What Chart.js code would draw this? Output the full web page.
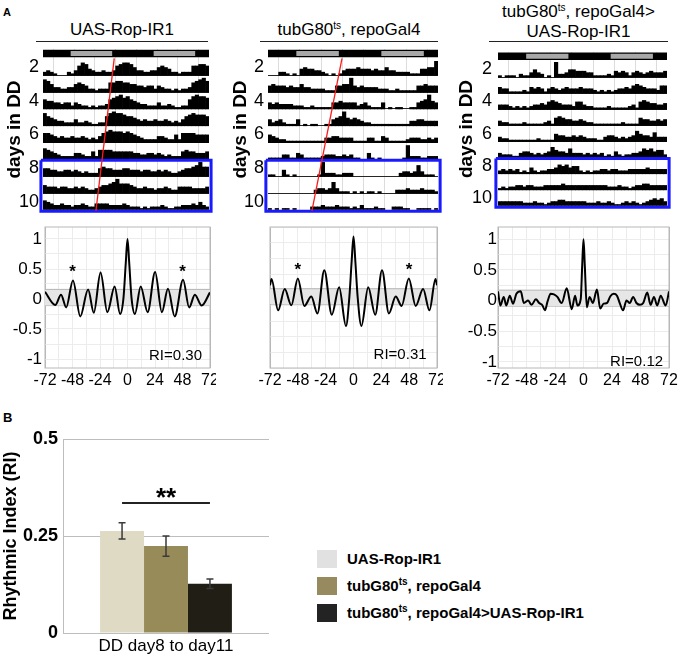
<!DOCTYPE html>
<html>
<head>
<meta charset="utf-8">
<script src="https://cdn.jsdelivr.net/npm/chart.js@4.4.1/dist/chart.umd.min.js"></script>
<style>
  body { margin: 0; background: #fff; }
  #fig { position: relative; width: 680px; height: 658px; overflow: hidden;
         font-family: 'Liberation Sans', Arial, sans-serif; color: #000; }
  #fig canvas { position: absolute; }
  .lab { position: absolute; font-weight: bold; }
  .ttl { position: absolute; text-align: center; font-size: 17px; line-height: 20px;
         border-bottom: 1.5px solid #222; }
  .ttl sup, #legend sup { font-size: 10px; vertical-align: 6px; line-height: 0; }
  #legend { position: absolute; left: 317px; top: 550px; font-size: 15px; font-weight: bold; }
  #legend div { height: 18px; line-height: 18px; margin-bottom: 9px; white-space: nowrap; }
  #legend span { display: inline-block; width: 20px; height: 18px; vertical-align: top; margin-right: 10px; }
</style>
</head>
<body>
<div id="fig">
  <div class="lab" style="left:3px;top:6px;font-size:11px">A</div>
  <div class="ttl" style="left:36px;top:20px;width:172px;height:21px">UAS-Rop-IR1</div>
  <div class="ttl" style="left:260px;top:20px;width:178px;height:21px">tubG80<sup>ts</sup>, repoGal4</div>
  <div class="ttl" style="left:489px;top:2px;width:179px;height:39px">tubG80<sup>ts</sup>, repoGal4&gt;<br>UAS-Rop-IR1</div>

  <canvas id="act1" width="215" height="170" style="left:0;top:44px"></canvas>
  <canvas id="act2" width="219" height="170" style="left:225px;top:44px"></canvas>
  <canvas id="act3" width="223" height="163" style="left:450px;top:47px"></canvas>

  <canvas id="acf1" width="216" height="174" style="left:0;top:218px"></canvas>
  <canvas id="acf2" width="218" height="174" style="left:225px;top:218px"></canvas>
  <canvas id="acf3" width="230" height="174" style="left:450px;top:218px"></canvas>

  <div class="lab" style="left:3px;top:410px;font-size:13px">B</div>
  <canvas id="riBars" width="285" height="233" style="left:0;top:425px"></canvas>
  <div id="legend"></div>
</div>

<script>
const FONT = "'Liberation Sans', Arial, sans-serif";
Chart.defaults.font.family = FONT;
Chart.defaults.color = '#000';

// ---- actograms: hourly activity, one array per day (day 2 .. day 11) ----
const firstDay = 2;
const ldEdges = [0, 8, 20, 32, 44, 48];      // subjective night / day edges over 48 h
const ldShade = ['D', 'L', 'D', 'L', 'D'];

const daysUAS = [
  [2,3,2,1,0,0,0,2,1,3,6,8,7,4,3,2,2,3,2,2,3,6,7,8],
  [8,7,5,3,3,2,2,3,3,5,6,5,4,2,2,1,2,2,2,6,6,7,7,6],
  [6,5,5,4,4,3,4,4,2,4,3,2,2,1,2,1,2,2,3,6,7,8,9,7],
  [8,6,5,4,3,3,2,2,2,4,2,2,3,2,1,1,2,2,6,8,9,8,8,7],
  [6,6,5,4,3,4,3,3,4,3,3,4,3,2,3,2,4,6,7,8,7,7,7,6],
  [7,6,5,4,3,2,2,2,2,4,4,3,2,2,5,2,6,6,6,6,5,5,5,5],
  [5,5,4,4,3,3,4,4,3,4,3,2,3,2,2,2,5,6,5,5,4,4,4,5],
  [5,4,4,4,3,4,4,3,3,4,3,4,3,2,2,3,4,5,5,6,7,9,6,6],
  [6,5,4,3,3,4,3,3,2,3,3,4,3,2,2,4,4,4,4,3,3,3,3,4],
  [3,2,2,2,1,2,1,2,2,2,3,2,1,1,2,2,3,3,3,4,3,5,3,2]
];
const daysRepo = [
  [0,0,0,2,2,1,0,1,0,4,5,4,4,3,3,2,1,0,1,0,1,3,4,4],
  [4,5,4,4,4,3,4,3,3,5,3,3,2,2,2,2,1,1,1,4,4,5,5,9],
  [4,3,4,3,3,3,3,2,2,2,1,1,2,1,1,1,1,1,4,4,5,4,4,4],
  [4,2,3,4,2,1,1,1,4,0,1,0,1,1,0,0,1,1,4,5,6,9,5,4],
  [5,4,3,2,2,1,1,1,1,1,1,1,1,1,1,1,3,3,4,4,3,3,3,3],
  [1,1,1,1,3,3,1,1,4,3,1,1,1,1,1,2,3,3,3,2,2,3,2,3],
  [1,1,0,0,4,1,0,1,0,0,0,0,0,0,1,9,2,2,2,1,1,2,2,2],
  [0,0,0,0,0,0,0,0,0,0,0,0,0,2,3,3,2,3,7,3,1,1,1,0],
  [1,0,1,0,1,1,0,1,0,0,0,0,2,2,2,3,2,2,2,3,2,2,2,1],
  [2,1,3,1,1,1,2,1,1,0,0,2,2,2,1,1,0,0,1,1,1,1,0,1]
];
const daysKD = [
  [1,0,1,1,1,0,2,1,1,3,5,3,2,0,1,0,10,2,2,3,5,5,4,4],
  [4,3,3,1,1,1,1,2,1,4,3,4,3,1,3,4,3,2,3,4,3,3,3,4],
  [3,3,3,2,1,2,1,2,1,2,3,3,4,3,5,6,5,4,3,3,3,2,5,5],
  [3,2,2,1,1,1,1,2,1,1,1,1,1,2,3,1,5,6,5,4,4,3,3,4],
  [3,2,2,1,1,1,1,1,1,1,1,2,1,1,1,1,5,4,4,3,3,4,3,4],
  [3,2,2,2,1,1,3,4,4,3,2,3,2,3,4,7,5,4,4,3,6,3,3,3],
  [2,3,2,3,2,3,1,2,1,4,2,1,2,2,3,3,4,6,5,6,4,5,5,2],
  [1,2,1,2,2,3,3,2,3,3,2,2,2,3,3,3,3,3,4,3,3,3,3,3],
  [3,3,3,3,3,3,3,2,2,2,3,2,2,1,2,3,3,4,4,3,3,3,3,3],
  [3,2,2,2,3,2,2,3,2,1,1,2,3,2,3,2,1,2,3,4,5,4,5,3]
];
const onsetUAS = [20.6, 15.3];    // red onset line: hour at first row top, last row bottom
const onsetRepo = [20.9, 12.4];
const boxDays = [8, 10];          // highlighted days

// ---- autocorrelation (lag in h) ----
const lagsUAS = [-72,-63,-58,-53.5,-47.6,-41.2,-34.4,-29.4,-23.5,-17.6,-11.2,-6.5,-3.5,-1.5,0,1.5,3.5,6.5,11.5,17.6,24.1,30,35.3,41.2,48.5,53.8,58.8,64.7,72];
const acfUAS  = [0.12,-0.10,0.07,-0.14,0.31,-0.29,0.16,-0.23,0.44,-0.22,0.21,-0.25,0.02,0.6,1.0,0.6,0.02,-0.25,0.21,-0.22,0.45,-0.22,0.17,-0.29,0.32,-0.14,0.07,-0.11,0.11];
const lagsRepo = [-72,-70.7,-65,-59.3,-53.6,-48,-42.4,-36.4,-31.1,-25.2,-18.7,-12.4,-6.5,-3.5,-1.6,0,1.6,3.5,6.8,12.7,18.7,24.6,30.5,36.4,41.5,47.7,53.6,60,65.5,70.7,72];
const acfRepo  = [0.22,0.32,-0.18,0.16,-0.10,0.33,-0.11,0.04,-0.23,0.46,-0.25,0.19,-0.43,0.05,0.6,1.0,0.6,0.05,-0.43,0.19,-0.25,0.46,-0.23,0.04,-0.11,0.33,-0.11,0.16,-0.18,0.32,0.22];
const lagsKD = [-72,-70,-67.2,-65,-62.1,-59.3,-56.5,-52.8,-50.3,-46.6,-43.8,-40.1,-37.3,-34.5,-32.5,-30.2,-27.7,-24.9,-22,-18.4,-14.1,-9.9,-7.1,-5.1,-2.3,-1.1,0,1.1,2.8,5.1,7.9,11.3,14.1,16.9,19.8,22.6,25.4,28.2,30.5,33.3,36.2,39,41.8,44.6,47.5,50.3,53.7,56.5,59.3,62.1,65,69.2,72];
const acfKD  = [0.15,-0.08,0.06,-0.08,0.08,-0.05,0.11,0.15,-0.04,0.0,-0.07,0.02,-0.04,-0.08,-0.16,-0.01,0.11,0.10,0.06,-0.04,0.20,-0.14,0.08,-0.08,0.03,0.57,1.0,0.57,-0.11,0.06,-0.04,0.18,-0.13,-0.05,-0.04,0.07,0.11,0.08,-0.04,-0.16,0.0,-0.04,0.06,-0.04,-0.07,-0.04,0.13,-0.07,0.06,-0.08,0.08,-0.08,0.15];
const bandUAS = [-0.11, 0.16];    // shaded confidence band
const bandRepo = [-0.08, 0.165];
const bandKD = [-0.09, 0.17];
const riText = ['RI=0.30', 'RI=0.31', 'RI=0.12'];
const starLags = [-48, 48];

// ---- panel B ----
const groups = ['UAS-Rop-IR1', 'tubG80ts, repoGal4', 'tubG80ts, repoGal4>UAS-Rop-IR1'];
const periodLabel = ['DD day8 to day11'];
const riMean = [0.263, 0.224, 0.127];
const riSem  = [0.021, 0.026, 0.012];
const sigPair = [0, 2];
const sigLevel = 0.335;
const sigMark = '**';

const barColors = ['#dedac4', '#978b59', '#211f15'];
const legendColors = ['#e1e1e1', '#978a5e', '#232323'];

// keep the chart area where the layout padding puts it
const noPad = s => { s.paddingTop = 0; s.paddingBottom = 0; s.paddingLeft = 0; s.paddingRight = 0; };

// --------------------------------------------------------------
function actogram(id, days, onset, o) {
  const rows = days.length - 1;
  const sets = [];
  for (let r = 0; r < rows; r++) {
    const vals = days[r].concat(days[r + 1]);
    const base = rows - 1 - r;
    sets.push({
      type: 'bar', order: 4, grouped: false,
      backgroundColor: '#000', borderWidth: 0,
      barPercentage: 1, categoryPercentage: 1,
      data: vals.map((v, h) => ({ x: h + 0.5, y: [base, base + v * 0.092] })).filter(p => p.y[1] > p.y[0])
    });
  }
  // LD bar above the rows
  const ldY = rows + 0.3;
  sets.push({ type: 'line', order: 2, data: [{ x: ldEdges[0], y: ldY }, { x: ldEdges[ldEdges.length - 1], y: ldY }],
    borderColor: '#000', borderWidth: 7.5, borderCapStyle: 'butt', pointRadius: 0, clip: false });
  ldShade.forEach((s, i) => {
    if (s !== 'L') return;
    sets.push({ type: 'line', order: 1, data: [{ x: ldEdges[i], y: ldY }, { x: ldEdges[i + 1], y: ldY }],
      borderColor: '#a8a8a8', borderWidth: 5, borderCapStyle: 'butt', pointRadius: 0, clip: false });
  });
  if (onset) {
    sets.push({ type: 'line', order: 0, data: [{ x: onset[0], y: rows }, { x: onset[1], y: -0.05 }],
      borderColor: '#ff1a1a', borderWidth: 1.3, pointRadius: 0, clip: false });
  }
  const top = rows - (boxDays[0] - firstDay) - 0.05;
  const bot = rows - 1 - (boxDays[1] - firstDay) - 0.08;
  sets.push({ type: 'line', order: 0,
    data: [{ x: -0.6, y: top }, { x: 48.6, y: top }, { x: 48.6, y: bot }, { x: -0.6, y: bot }, { x: -0.6, y: top }],
    borderColor: '#1a1aff', borderWidth: 3, borderJoinStyle: 'miter', pointRadius: 0, clip: false });

  new Chart(document.getElementById(id), {
    type: 'bar',
    data: { datasets: sets },
    options: {
      responsive: false, animation: false,
      layout: { padding: { top: 5, right: 6, bottom: 4, left: 0 } },
      plugins: { legend: { display: false }, tooltip: { enabled: false } },
      scales: {
        x: { type: 'linear', min: 0, max: 48, offset: false,
             afterFit: s => { s.height = 0; noPad(s); },
             ticks: { display: false, stepSize: 6 },
             grid: { color: '#dcdcdc', drawTicks: false }, border: { display: false } },
        y: { min: 0, max: rows + 0.56,
             afterFit: s => { s.width = o.axisW; noPad(s); },
             ticks: { stepSize: 1, includeBounds: false, autoSkip: false, padding: o.tickPad, labelOffset: o.labelOffset,
                      font: { size: 18 }, color: '#000',
                      callback: v => {
                        if (!Number.isInteger(v) || v >= rows) return '';
                        const day = firstDay + rows - 1 - v;
                        return day % 2 === 0 ? String(day) : '';
                      } },
             grid: { drawTicks: false, lineWidth: 1,
                     color: c => (c.tick && Number.isInteger(c.tick.value) && c.tick.value < rows) ? '#262626' : 'rgba(0,0,0,0)' },
             border: { display: false },
             title: { display: true, text: 'days in DD', font: { size: 19, weight: 'bold' }, color: '#000',
                      padding: { top: o.titlePad, bottom: 0 } } }
      }
    }
  });
}

const frame = { id: 'frame', beforeDatasetsDraw(chart) {
  const { ctx, chartArea: a } = chart;
  ctx.save(); ctx.strokeStyle = '#b8b8b8'; ctx.lineWidth = 1;
  ctx.strokeRect(a.left, a.top, a.right - a.left, a.bottom - a.top);
  ctx.restore();
} };

function notes(items) {
  return { id: 'notes', afterDatasetsDraw(chart) {
    const { ctx, scales: { x, y } } = chart;
    ctx.save(); ctx.fillStyle = '#000'; ctx.textBaseline = 'middle';
    items.forEach(n => {
      ctx.font = n.font; ctx.textAlign = n.align || 'center';
      ctx.fillText(n.text, x.getPixelForValue(n.x), y.getPixelForValue(n.y));
    });
    ctx.restore();
  } };
}

function correlogram(id, lags, acf, band, ri, o) {
  const peakNear = lag => Math.max(...acf.filter((v, i) => Math.abs(lags[i] - lag) <= 3));
  const items = [{ text: ri, x: o.riX, y: o.riY, align: 'right', font: '15px ' + FONT }];
  if (o.stars) starLags.forEach(l => items.push({ text: '*', x: l, y: peakNear(l) + 0.13, font: 'bold 17px ' + FONT }));
  const edge = '#b8b8b8', light = '#ececec';
  new Chart(document.getElementById(id), {
    type: 'line',
    data: { datasets: [
      { data: lags.map((x, i) => ({ x, y: acf[i] })), borderColor: '#000', borderWidth: 2, pointRadius: 0,
        cubicInterpolationMode: 'monotone', order: 0 },
      { data: [{ x: -72, y: band[1] }, { x: 72, y: band[1] }], borderColor: '#b4b4b4', borderWidth: 1, pointRadius: 0,
        fill: '+1', backgroundColor: '#e6e6e6', order: 2 },
      { data: [{ x: -72, y: band[0] }, { x: 72, y: band[0] }], borderColor: '#a8a8a8', borderWidth: 1, pointRadius: 0,
        fill: false, order: 2 }
    ] },
    plugins: [frame, notes(items)],
    options: {
      responsive: false, animation: false,
      layout: { padding: { top: 9, right: o.padRight, bottom: 0, left: 0 } },
      plugins: { legend: { display: false }, tooltip: { enabled: false } },
      scales: {
        x: { type: 'linear', min: -72, max: 72,
             afterFit: s => { s.height = 24; noPad(s); },
             ticks: { stepSize: 12, autoSkip: false, maxRotation: 0, padding: 3, font: { size: 16 }, color: '#000',
                      callback: v => v % 24 === 0 ? String(v) : '' },
             grid: { drawTicks: false, color: c => (c.tick && Math.abs(c.tick.value) === 72) ? edge : light },
             border: { display: false } },
        y: { min: o.yMin, max: o.yMax,
             afterFit: s => { s.width = o.axisW; noPad(s); },
             ticks: { stepSize: 0.25, includeBounds: false, autoSkip: false, padding: o.tickPad,
                      font: { size: 17 }, color: '#000',
                      callback: v => Math.abs(v * 2 - Math.round(v * 2)) < 1e-6 ? String(v) : '' },
             grid: { drawTicks: false, color: light },
             border: { display: false } }
      }
    }
  });
}

actogram('act1', daysUAS, onsetUAS, { axisW: 43, tickPad: 4, labelOffset: -8.4, titlePad: 3 });
actogram('act2', daysRepo, onsetRepo, { axisW: 43, tickPad: 4, labelOffset: -8.4, titlePad: 4 });
actogram('act3', daysKD, null, { axisW: 48, tickPad: 6, labelOffset: -8, titlePad: 5 });

correlogram('acf1', lagsUAS, acfUAS, bandUAS, riText[0], { yMin: -1.15, yMax: 1.2, axisW: 45, tickPad: 3, padRight: 6, riX: 65, riY: -0.94, stars: true });
correlogram('acf2', lagsRepo, acfRepo, bandRepo, riText[1], { yMin: -1.1, yMax: 1.15, axisW: 45, tickPad: 3, padRight: 6, riX: 63, riY: -0.89, stars: true });
correlogram('acf3', lagsKD, acfKD, bandKD, riText[2], { yMin: -1.1, yMax: 1.2, axisW: 48, tickPad: 1, padRight: 11, riX: 67, riY: -1.0, stars: false });

// ---- panel B ----
const errorBars = { id: 'errorBars', afterDatasetsDraw(chart) {
  const { ctx, scales: { y } } = chart;
  ctx.save();
  ctx.strokeStyle = '#3a3a3a'; ctx.lineWidth = 1.5;
  riMean.forEach((m, i) => {
    const bar = chart.getDatasetMeta(i).data[0];
    const t = y.getPixelForValue(m + riSem[i]), b = y.getPixelForValue(m - riSem[i]);
    ctx.beginPath();
    ctx.moveTo(bar.x, t); ctx.lineTo(bar.x, b);
    ctx.moveTo(bar.x - 3.5, t); ctx.lineTo(bar.x + 3.5, t);
    ctx.moveTo(bar.x - 3.5, b); ctx.lineTo(bar.x + 3.5, b);
    ctx.stroke();
  });
  const a = chart.getDatasetMeta(sigPair[0]).data[0], c = chart.getDatasetMeta(sigPair[1]).data[0];
  const ys = y.getPixelForValue(sigLevel);
  ctx.strokeStyle = '#222'; ctx.lineWidth = 2;
  ctx.beginPath(); ctx.moveTo(a.x, ys); ctx.lineTo(c.x, ys); ctx.stroke();
  ctx.fillStyle = '#000'; ctx.font = 'bold 26px ' + FONT;
  ctx.textAlign = 'center'; ctx.textBaseline = 'alphabetic';
  ctx.fillText(sigMark, (a.x + c.x) / 2, ys + 3);
  ctx.restore();
} };

new Chart(document.getElementById('riBars'), {
  type: 'bar',
  data: {
    labels: periodLabel,
    datasets: groups.map((g, i) => ({ label: g, data: [riMean[i]], backgroundColor: barColors[i], borderWidth: 0,
                                     barPercentage: 1, categoryPercentage: 0.64 }))
  },
  plugins: [errorBars],
  options: {
    responsive: false, animation: false,
    layout: { padding: { top: 14, right: 16, bottom: 0, left: 0 } },
    plugins: { legend: { display: false }, tooltip: { enabled: false } },
    scales: {
      x: { afterFit: s => { s.height = 25; noPad(s); },
           ticks: { padding: 3, font: { size: 17 }, color: '#000' },
           grid: { display: false, drawTicks: false }, border: { display: false } },
      y: { min: 0, max: 0.5,
           afterFit: s => { s.width = 63; noPad(s); },
           ticks: { stepSize: 0.25, padding: 5, font: { size: 18, weight: 'bold' }, color: '#000',
                    callback: v => String(v) },
           grid: { drawTicks: false, color: '#bdbdbd' },
           border: { display: true, color: '#bdbdbd' },
           title: { display: true, text: 'Rhythmic Index (RI)', font: { size: 18, weight: 'bold' }, color: '#000', padding: 0 } }
    }
  }
});

// legend for panel B
const esc = s => s.replace(/&/g, '&amp;').replace(/</g, '&lt;').replace(/>/g, '&gt;').replace(/G80ts/g, 'G80<sup>ts</sup>');
document.getElementById('legend').innerHTML = groups
  .map((g, i) => `<div><span style="background:${legendColors[i]}"></span>${esc(g)}</div>`).join('');
</script>
</body>
</html>
